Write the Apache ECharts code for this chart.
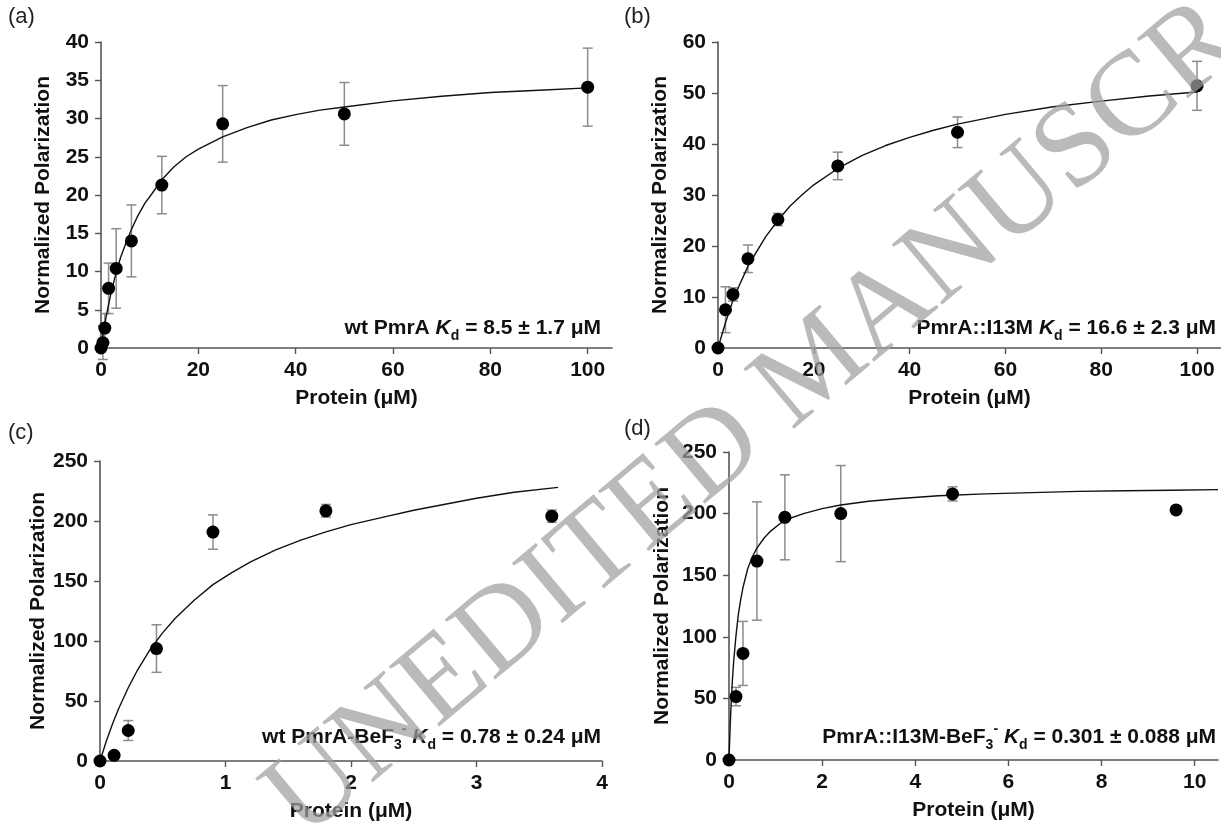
<!DOCTYPE html>
<html>
<head>
<meta charset="utf-8">
<title>PmrA binding</title>
<script src="https://cdn.jsdelivr.net/npm/echarts@6/dist/echarts.min.js"></script>
<style>
  html, body { margin: 0; padding: 0; background: #fff; }
  #main { width: 1221px; height: 831px; }
</style>
</head>
<body>
<div id="main"></div>
<script>
/* data */
// (a) wt PmrA
var concA = [0, 0.39, 0.78, 1.56, 3.125, 6.25, 12.5, 25, 50, 100]
var polA = [0, 0.7, 2.6, 7.8, 10.4, 14.0, 21.3, 29.3, 30.6, 34.1]
var errA = [0, 2.2, 1.9, 3.3, 5.2, 4.7, 3.75, 5.0, 4.1, 5.1]
var fitXA = [0, 0.5, 1, 1.5, 2, 3, 4, 5, 6.25, 7.5, 9, 10.5, 12.5, 15, 17.5, 20, 25, 30, 35, 40, 45, 50, 60, 70, 80, 90, 100]
var fitYA = [0, 2.1, 3.9, 5.5, 7.0, 9.6, 11.8, 13.5, 15.5, 17.2, 18.9, 20.2, 22.0, 23.7, 25.0, 26.0, 27.6, 28.8, 29.8, 30.5, 31.1, 31.5, 32.3, 32.9, 33.4, 33.7, 34.0]
// (b) PmrA::I13M
var concB = [0, 1.56, 3.125, 6.25, 12.5, 25, 50, 100]
var polB = [0, 7.5, 10.5, 17.5, 25.2, 35.7, 42.3, 51.4]
var errB = [0, 4.5, 1.3, 2.7, 1.2, 2.7, 3.0, 4.8]
var fitXB = [0, 1.5, 3, 4.5, 6.25, 8, 10, 12.5, 15, 17.5, 20, 25, 30, 35, 40, 45, 50, 60, 70, 80, 90, 100]
var fitYB = [0, 4.8, 9.0, 12.4, 16.0, 18.8, 21.9, 25.0, 27.8, 30.0, 32.0, 35.2, 37.7, 39.7, 41.3, 42.7, 43.9, 45.8, 47.3, 48.4, 49.4, 50.2]
// (c) wt PmrA-BeF3-
var concC = [0, 0.1125, 0.225, 0.45, 0.9, 1.8, 3.6]
var polC = [0, 4.7, 25.4, 93.7, 190.8, 208.5, 204]
var errC = [2, 2, 8.3, 19.8, 14.3, 5.3, 5.1]
var fitXC = [0, 0.05, 0.1, 0.15, 0.225, 0.3, 0.4, 0.5, 0.6, 0.75, 0.9, 1.05, 1.2, 1.4, 1.6, 1.8, 2.0, 2.25, 2.5, 2.75, 3.0, 3.3, 3.65]
var fitYC = [0, 16.5, 31, 44, 61, 76, 93, 107, 119, 134, 147, 157, 166, 176, 184, 191, 197, 203, 209, 214, 219, 224, 228]
// (d) PmrA::I13M-BeF3-
var concD = [0, 0.15, 0.3, 0.6, 1.2, 2.4, 4.8, 9.6]
var polD = [0, 51.5, 86.5, 161.5, 197, 200, 216, 203]
var errD = [0, 7.5, 26, 48, 34.5, 39, 5.7, 3.1]
var fitXD = [0, 0.025, 0.05, 0.075, 0.1, 0.15, 0.2, 0.25, 0.3, 0.4, 0.5, 0.6, 0.75, 0.9, 1.1, 1.3, 1.6, 2.0, 2.4, 3.0, 3.6, 4.5, 5.5, 6.5, 7.5, 8.5, 9.5, 10.5]
var fitYD = [0, 27, 49, 66, 80, 101, 118, 130, 140, 155, 165, 172, 180, 186, 192, 196, 200, 204, 207, 210, 212, 214.5, 216, 217, 218, 218.6, 219, 219.5]

// tick labels
var xTicksAB = [0, 20, 40, 60, 80, 100]
var xTicksD = [0, 2, 4, 6, 8, 10]

var FONT = '"Liberation Sans", Arial, sans-serif'
var AXIS_COLOR = '#555'

var boldText = { fontFamily: FONT, fontWeight: 'bold', fontSize: 21, color: '#111' }

var xAxis = function (i, max, ticks, interval) {
  var ax = {
    gridIndex: i, type: 'value', min: 0, max: max,
    name: 'Protein (μM)', nameLocation: 'middle', nameGap: 40,
    nameTextStyle: boldText,
    axisLine: { show: true, onZero: false, lineStyle: { color: AXIS_COLOR, width: 1.6 } },
    axisTick: { show: true, length: 6, lineStyle: { color: AXIS_COLOR, width: 1.4 } },
    axisLabel: Object.assign({ margin: 12 }, boldText),
    splitLine: { show: false }
  }
  if (ticks) {
    ax.axisTick.customValues = ticks
    ax.axisLabel.customValues = ticks
  } else {
    ax.interval = interval
  }
  return ax
}

var yAxis = function (i, max, interval, gap) {
  return {
    gridIndex: i, type: 'value', min: 0, max: max, interval: interval,
    name: 'Normalized Polarization', nameLocation: 'middle', nameGap: gap,
    nameTextStyle: boldText,
    axisLine: { show: true, onZero: false, lineStyle: { color: AXIS_COLOR, width: 1.6 } },
    axisTick: { show: true, length: 6, lineStyle: { color: AXIS_COLOR, width: 1.4 } },
    axisLabel: Object.assign({ margin: 12 }, boldText),
    splitLine: { show: false }
  }
}

// grey error bar with caps
var errItem = function (params, api) {
  var x = api.value(0)
  var top = api.coord([x, api.value(2)])
  var bot = api.coord([x, api.value(1)])
  var w = 5
  var st = { stroke: '#8c8c8c', lineWidth: 1.5 }
  return {
    type: 'group',
    children: [
      { type: 'line', shape: { x1: top[0], y1: top[1], x2: bot[0], y2: bot[1] }, style: st },
      { type: 'line', shape: { x1: top[0] - w, y1: top[1], x2: top[0] + w, y2: top[1] }, style: st },
      { type: 'line', shape: { x1: bot[0] - w, y1: bot[1], x2: bot[0] + w, y2: bot[1] }, style: st }
    ]
  }
}

var panelSeries = function (i, conc, pol, err, fitX, fitY) {
  var errData = conc.map(function (c, k) { return [c, pol[k] - err[k], pol[k] + err[k]] })
  var ptData = conc.map(function (c, k) { return [c, pol[k]] })
  var fitData = fitX.map(function (x, k) { return [x, fitY[k]] })
  return [
    {
      type: 'custom', xAxisIndex: i, yAxisIndex: i, renderItem: errItem,
      data: errData, encode: { x: 0, y: [1, 2] }, clip: false, z: 2, silent: true
    },
    {
      type: 'line', xAxisIndex: i, yAxisIndex: i, data: fitData,
      smooth: false, showSymbol: false, symbol: 'none',
      lineStyle: { color: '#111', width: 1.4, join: 'round' }, z: 3, silent: true
    },
    {
      type: 'scatter', xAxisIndex: i, yAxisIndex: i, data: ptData,
      symbol: 'circle', symbolSize: 13, itemStyle: { color: '#000', opacity: 1 }, clip: false, z: 4
    }
  ]
}

var note = function (x, y, text) {
  return {
    type: 'text', x: x, y: y, z: 10,
    style: {
      text: text, align: 'right', verticalAlign: 'bottom',
      rich: {
        n: { fontFamily: FONT, fontWeight: 'bold', fontSize: 21, lineHeight: 30, verticalAlign: 'middle', fill: '#111' },
        i: { fontFamily: FONT, fontWeight: 'bold', fontStyle: 'italic', fontSize: 21, lineHeight: 30, verticalAlign: 'middle', fill: '#111' },
        s: { fontFamily: FONT, fontWeight: 'bold', fontSize: 14, lineHeight: 14, verticalAlign: 'bottom', fill: '#111' },
        p: { fontFamily: FONT, fontWeight: 'bold', fontSize: 14, lineHeight: 14, verticalAlign: 'top', fill: '#111' }
      }
    }
  }
}

var panelLabel = function (x, y, t) {
  return {
    type: 'text', x: x, y: y, z: 10,
    style: { text: t, font: '22px ' + FONT, fill: '#222' }
  }
}

var chart = echarts.init(document.getElementById('main'))

var option = {
  backgroundColor: '#fff',
  animation: false,
  grid: [
    { left: 101, top: 42, width: 511, height: 306, outerBoundsMode: 'none' },
    { left: 718, top: 42, width: 503, height: 306, outerBoundsMode: 'none' },
    { left: 100, top: 461, width: 502, height: 300, outerBoundsMode: 'none' },
    { left: 729, top: 452, width: 489, height: 308, outerBoundsMode: 'none' }
  ],
  xAxis: [
    xAxis(0, 105, xTicksAB),
    xAxis(1, 105, xTicksAB),
    xAxis(2, 4, null, 1),
    xAxis(3, 10.5, xTicksD)
  ],
  yAxis: [
    yAxis(0, 40, 5, 47),
    yAxis(1, 60, 10, 47),
    yAxis(2, 250, 50, 47),
    yAxis(3, 250, 50, 56)
  ],
  series: [].concat(
    panelSeries(0, concA, polA, errA, fitXA, fitYA),
    panelSeries(1, concB, polB, errB, fitXB, fitYB),
    panelSeries(2, concC, polC, errC, fitXC, fitYC),
    panelSeries(3, concD, polD, errD, fitXD, fitYD)
  ),
  graphic: [
    panelLabel(8, 6, '(a)'),
    panelLabel(624, 6, '(b)'),
    panelLabel(8, 422, '(c)'),
    panelLabel(624, 418, '(d)'),
    note(601, 343, '{n|wt PmrA }{i|K}{s|d}{n| = 8.5 ± 1.7 μM}'),
    note(1216, 343, '{n|PmrA::I13M }{i|K}{s|d}{n| = 16.6 ± 2.3 μM}'),
    note(601, 752, '{n|wt PmrA-BeF}{s|3}{p|-}{n| }{i|K}{s|d}{n| = 0.78 ± 0.24 μM}'),
    note(1216, 752, '{n|PmrA::I13M-BeF}{s|3}{p|-}{n| }{i|K}{s|d}{n| = 0.301 ± 0.088 μM}'),
    // diagonal watermark
    {
      type: 'text', x: 322, y: 862, rotation: 40 * Math.PI / 180, z: 20, silent: true,
      style: {
        text: 'UNEDITED MANUSCRIPT', align: 'left', verticalAlign: 'bottom',
        font: '120px "Liberation Serif", "Times New Roman", serif',
        fill: 'rgba(160,160,160,0.72)'
      }
    }
  ]
}

chart.setOption(option)
</script>
</body>
</html>
